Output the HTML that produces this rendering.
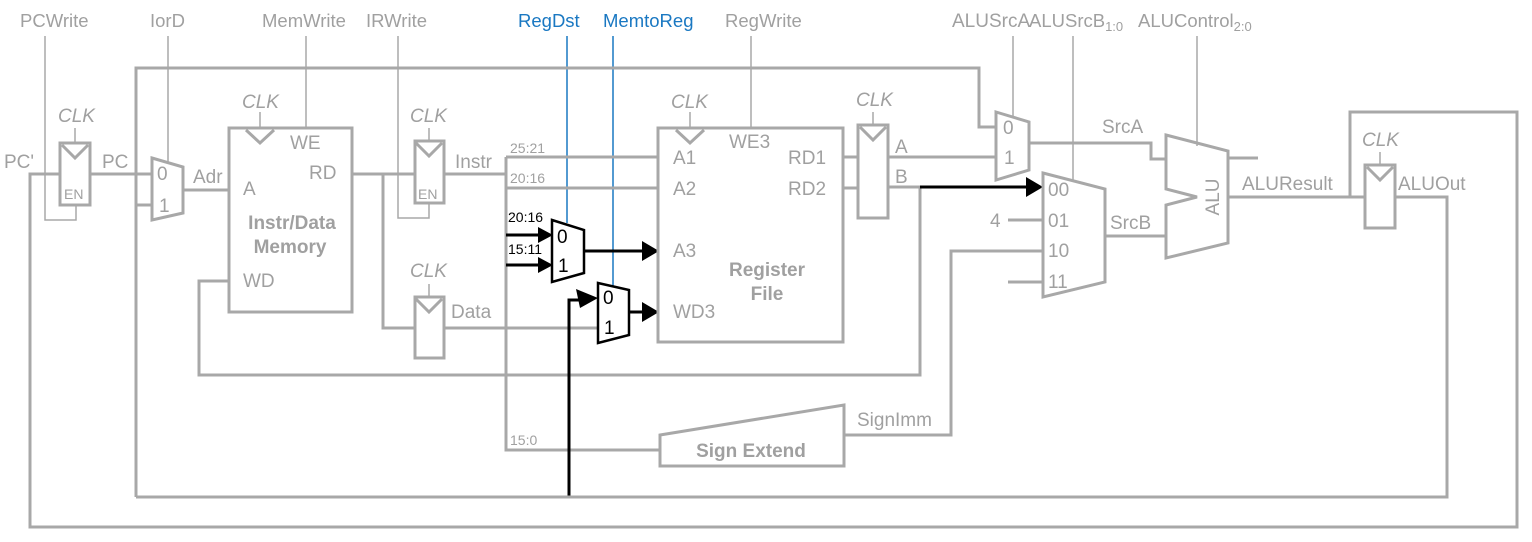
<!DOCTYPE html>
<html><head><meta charset="utf-8"><style>
html,body{margin:0;padding:0;background:#fff;}
svg{display:block;}
text{font-family:"Liberation Sans",sans-serif;fill:#a0a0a0;font-size:19px;}
.tp{font-size:18.5px;}
.g{stroke:#a8a8a8;stroke-width:3;fill:none;}
.t{stroke:#a8a8a8;stroke-width:1.5;fill:none;}
.k{stroke:#000;stroke-width:3;fill:none;}
.kb{stroke:#000;stroke-width:2.5;fill:#fff;}
.b{stroke:#1a78c2;stroke-width:1.5;fill:none;}
.it{font-style:italic;}
.bd{font-weight:bold;}
.sm{font-size:14px;}
</style></head><body>
<svg width="1532" height="542" viewBox="0 0 1532 542" xmlns="http://www.w3.org/2000/svg">
<text class="tp" x="20" y="27">PCWrite</text>
<text class="tp" x="150" y="27">IorD</text>
<text class="tp" x="262" y="27">MemWrite</text>
<text class="tp" x="366" y="27">IRWrite</text>
<text class="tp" x="518" y="27" style="fill:#1a78c2">RegDst</text>
<text class="tp" x="603" y="27" style="fill:#1a78c2">MemtoReg</text>
<text class="tp" x="725" y="27">RegWrite</text>
<text x="952" y="27" font-size="17.5">ALUSrcA</text>
<text class="tp" x="1029" y="27">ALUSrcB<tspan font-size="13" dy="4">1:0</tspan></text>
<text class="tp" x="1138" y="27">ALUControl<tspan font-size="13" dy="4">2:0</tspan></text>

<path class="t" d="M45 36V220H76V205"/>
<path class="t" d="M168 36V162"/>
<path class="t" d="M306 36V128"/>
<path class="t" d="M398 36V218H429V203"/>
<path class="b" d="M567 36V223"/>
<path class="b" d="M613 36V286"/>
<path class="t" d="M751 36V128"/>
<path class="t" d="M1013 36V116"/>
<path class="t" d="M1073 36V180"/>
<path class="t" d="M1197 36V146"/>

<path class="g" d="M136 497V68H979V127H996"/>
<path class="g" d="M60 174H30V527H1517V112H1350V197"/>
<rect class="g" x="60" y="143" width="30" height="62"/>
<path class="g" d="M62 145L75 158L88 145"/>
<path class="t" d="M75 128V143"/>
<text class="it" x="58" y="122">CLK</text>
<text x="64" y="199" class="sm">EN</text>
<text x="4" y="168">PC'</text>
<path class="g" d="M90 174H152"/>
<text x="102" y="168">PC</text>
<path class="g" d="M152 158L183 167V213L152 220Z"/>
<text x="157" y="180">0</text>
<text x="159" y="212">1</text>
<path class="g" d="M136 205H152"/>
<path class="g" d="M183 190H229"/>
<text x="193" y="183">Adr</text>
<rect class="g" x="229" y="128" width="123" height="184"/>
<path class="g" d="M246 130L260 143L274 130"/>
<path class="t" d="M260 112V128"/>
<text class="it" x="242" y="108">CLK</text>
<text x="290" y="149">WE</text>
<text x="309" y="179">RD</text>
<text x="243" y="195">A</text>
<text class="bd" x="292" y="229" text-anchor="middle">Instr/Data</text>
<text class="bd" x="290" y="253" text-anchor="middle">Memory</text>
<text x="243" y="287">WD</text>
<path class="g" d="M229 281H199V375H920V187"/>
<path class="g" d="M352 174H415"/>
<path class="g" d="M383 174V328H415"/>
<rect class="g" x="415" y="141" width="29" height="62"/>
<path class="g" d="M416 143L429 156L442 143"/>
<path class="t" d="M429 128V141"/>
<text class="it" x="410" y="122">CLK</text>
<text x="418" y="199" class="sm">EN</text>
<rect class="g" x="415" y="297" width="29" height="61"/>
<path class="g" d="M416 299L429 312L442 299"/>
<path class="t" d="M429 284V297"/>
<text class="it" x="410" y="277">CLK</text>
<text x="451" y="318">Data</text>
<path class="g" d="M444 328H598"/>
<path class="g" d="M444 174H506"/>
<text x="455" y="168">Instr</text>
<path class="g" d="M506 157V450H660"/>
<path class="g" d="M506 157H658M506 188H658"/>
<text class="sm" x="510" y="153">25:21</text>
<text class="sm" x="510" y="183">20:16</text>
<text class="sm" x="510" y="445">15:0</text>
<path class="k" d="M506 235H542M506 265H542"/>
<path d="M538 227L553 235L538 243Z M538 257L553 265L538 273Z" fill="#000"/>
<text class="sm" x="508" y="222" style="fill:#000">20:16</text>
<text class="sm" x="508" y="254" style="fill:#000">15:11</text>
<path class="kb" d="M552 220L584 230V273L552 282Z"/>
<text x="557" y="243" style="fill:#000">0</text>
<text x="558" y="272" style="fill:#000">1</text>
<path class="k" d="M584 251H645"/>
<path d="M642 241L659 251L642 261Z" fill="#000"/>
<path class="k" d="M569 497V300H585"/>
<path d="M576 289L598 298L580 308Z" fill="#000"/>
<path class="kb" d="M598 283L629 290V335L598 343Z"/>
<text x="603" y="304" style="fill:#000">0</text>
<text x="604" y="334" style="fill:#000">1</text>
<path class="k" d="M629 312H645"/>
<path d="M642 302L659 312L642 322Z" fill="#000"/>
<rect class="g" x="658" y="128" width="185" height="214"/>
<path class="g" d="M676 130L690 143L704 130"/>
<path class="t" d="M690 112V128"/>
<text class="it" x="671" y="108">CLK</text>
<text x="729" y="148">WE3</text>
<text x="673" y="164">A1</text>
<text x="673" y="195">A2</text>
<text x="673" y="257">A3</text>
<text x="673" y="318">WD3</text>
<text x="788" y="164">RD1</text>
<text x="788" y="195">RD2</text>
<text class="bd" x="767" y="276" text-anchor="middle">Register</text>
<text class="bd" x="767" y="300" text-anchor="middle">File</text>
<path class="g" d="M843 157H858M843 188H858"/>
<rect class="g" x="858" y="125" width="30" height="93"/>
<path class="g" d="M860 127L873 140L886 127"/>
<path class="t" d="M873 112V125"/>
<text class="it" x="856" y="106">CLK</text>
<text x="895" y="153">A</text>
<text x="895" y="183">B</text>
<path class="g" d="M888 157H996"/>
<path class="g" d="M888 187H920"/>
<path class="k" d="M920 187H1030"/>
<path d="M1026 177L1043 187L1026 197Z" fill="#000"/>
<path class="g" d="M996 112L1029 122V170L996 180Z"/>
<text x="1003" y="134">0</text>
<text x="1004" y="164">1</text>
<path class="g" d="M1029 143H1151V159H1166"/>
<text x="1102" y="133">SrcA</text>
<path class="g" d="M1043 173L1105 189V282L1043 297Z"/>
<text x="1048" y="196">00</text>
<text x="1048" y="227">01</text>
<text x="1048" y="257">10</text>
<text x="1048" y="288">11</text>
<text x="990" y="227">4</text>
<path class="g" d="M1008 220H1043M1008 282H1043"/>
<path class="g" d="M1043 251H951V435H844"/>
<path class="g" d="M1105 236H1166"/>
<text x="1110" y="229">SrcB</text>
<path class="g" d="M660 435L844 405V466H660Z"/>
<text class="bd" x="751" y="457" text-anchor="middle">Sign Extend</text>
<text x="857" y="426">SignImm</text>
<path class="g" d="M1166 135L1228 151V243L1166 258V205L1197 197L1166 189Z"/>
<text x="0" y="0" transform="translate(1219,197) rotate(-90)" text-anchor="middle" font-size="23">ALU</text>
<path class="g" d="M1228 158H1258"/>
<path class="g" d="M1228 197H1365"/>
<text x="1242" y="190">ALUResult</text>
<rect class="g" x="1365" y="165" width="30" height="63"/>
<path class="g" d="M1367 167L1380 180L1393 167"/>
<path class="t" d="M1380 152V165"/>
<text class="it" x="1362" y="146">CLK</text>
<text x="1398" y="190">ALUOut</text>
<path class="g" d="M1395 197H1447V497H136"/>
</svg>
</body></html>
